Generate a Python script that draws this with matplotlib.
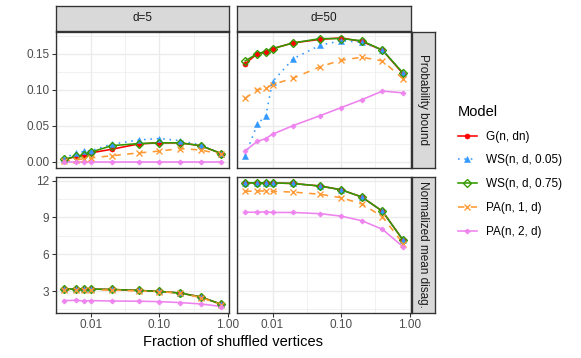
import matplotlib
matplotlib.use("Agg")
import matplotlib.pyplot as plt
import numpy as np
from matplotlib.lines import Line2D
from matplotlib.ticker import FixedLocator, NullFormatter

plt.rcParams['font.family'] = ['Liberation Sans', 'DejaVu Sans']

# ---------------- data ----------------
fraction = [0.004, 0.006, 0.008, 0.01, 0.02, 0.05, 0.1, 0.2, 0.4, 0.8]
models = ["G(n, dn)", "WS(n, d, 0.05)", "WS(n, d, 0.75)", "PA(n, 1, d)", "PA(n, 2, d)"]
degrees = ["d=5", "d=50"]
metrics = ["Probability bound", "Normalized mean disag."]

prob_d5_G    = [0.002, 0.007, 0.009, 0.012, 0.017, 0.0245, 0.026, 0.026, 0.022, 0.011]
prob_d5_WS05 = [0.004, 0.012, 0.014, 0.015, 0.024, 0.030, 0.032, 0.029, 0.023, 0.011]
prob_d5_WS75 = [0.003, 0.007, 0.009, 0.013, 0.022, 0.025, 0.026, 0.026, 0.022, 0.011]
prob_d5_PA1  = [0.0005, 0.002, 0.004, 0.005, 0.008, 0.012, 0.0145, 0.018, 0.016, 0.010]
prob_d5_PA2  = [0.0, 0.0, 0.0, 0.0, 0.0, 0.0, 0.0, 0.0, 0.0, 0.0]

prob_d50_G    = [0.136, 0.150, 0.152, 0.157, 0.165, 0.170, 0.172, 0.167, 0.155, 0.122]
prob_d50_WS05 = [0.008, 0.052, 0.064, 0.111, 0.143, 0.162, 0.168, 0.166, 0.155, 0.123]
prob_d50_WS75 = [0.140, 0.150, 0.153, 0.157, 0.165, 0.171, 0.171, 0.168, 0.155, 0.123]
prob_d50_PA1  = [0.088, 0.100, 0.102, 0.107, 0.116, 0.132, 0.141, 0.145, 0.140, 0.115]
prob_d50_PA2  = [0.015, 0.028, 0.032, 0.038, 0.050, 0.064, 0.075, 0.086, 0.098, 0.0955]

disag_d5_G    = [3.16, 3.16, 3.16, 3.16, 3.13, 3.05, 2.97, 2.84, 2.52, 1.92]
disag_d5_WS05 = [3.16, 3.16, 3.16, 3.16, 3.13, 3.05, 2.97, 2.84, 2.52, 1.92]
disag_d5_WS75 = [3.16, 3.16, 3.16, 3.16, 3.13, 3.05, 2.97, 2.84, 2.52, 1.92]
disag_d5_PA1  = [3.10, 3.10, 3.10, 3.10, 3.08, 3.00, 2.95, 2.82, 2.47, 1.88]
disag_d5_PA2  = [2.22, 2.25, 2.19, 2.22, 2.19, 2.17, 2.14, 2.06, 1.95, 1.74]

disag_d50_G    = [11.81, 11.81, 11.81, 11.81, 11.76, 11.55, 11.25, 10.66, 9.50, 7.14]
disag_d50_WS05 = [11.81, 11.81, 11.81, 11.81, 11.76, 11.55, 11.25, 10.66, 9.50, 7.14]
disag_d50_WS75 = [11.81, 11.81, 11.81, 11.81, 11.76, 11.55, 11.25, 10.66, 9.50, 7.14]
disag_d50_PA1  = [11.12, 11.15, 11.15, 11.12, 11.06, 10.88, 10.60, 10.10, 9.05, 6.87]
disag_d50_PA2  = [9.42, 9.42, 9.45, 9.40, 9.40, 9.30, 9.10, 8.73, 8.03, 6.60]

panel_data = {
    (0, 0): [prob_d5_G, prob_d5_WS05, prob_d5_WS75, prob_d5_PA1, prob_d5_PA2],
    (0, 1): [prob_d50_G, prob_d50_WS05, prob_d50_WS75, prob_d50_PA1, prob_d50_PA2],
    (1, 0): [disag_d5_G, disag_d5_WS05, disag_d5_WS75, disag_d5_PA1, disag_d5_PA2],
    (1, 1): [disag_d50_G, disag_d50_WS05, disag_d50_WS75, disag_d50_PA1, disag_d50_PA2],
}

y_ticks = [[0.0, 0.05, 0.10, 0.15], [3, 6, 9, 12]]
y_ticklabels = [["0.00", "0.05", "0.10", "0.15"], ["3", "6", "9", "12"]]
x_ticks = [0.01, 0.1, 1.0]
x_ticklabels = ["0.01", "0.10", "1.00"]

# ---------------- styles ----------------
colors = ["#FF0000", "#3399FF", "#339900", "#FF9933", "#EE82EE"]
linestyles = ["-", (0, (1, 3)), "-", (0, (4, 4)), "-"]
markers = ["o", "^", "D", "x", "P"]
msizes = [3.8, 4.5, 4.3, 4.0, 3.6]
mfaces = ["#FF0000", "#3399FF", "none", "#FF9933", "#EE82EE"]
mews = [0.4, 0.4, 1.0, 1.0, 0.4]
lw = 1.2

W, H = 581, 358
fig = plt.figure(figsize=(W / 96, H / 96), dpi=96)

cols_x = [(55.7, 229.3), (237.3, 411.0)]
rows_y = [(31.7, 167.7), (176.7, 312.7)]
strip_top = (5.7, 31.0)
strip_right = (411.7, 435.0)

def fx(px):
    return px / W

def fy(py):
    return 1 - py / H

grey20 = "#333333"
grey30 = "#4D4D4D"

xl = np.log10(fraction)
xr = xl.max() - xl.min()
xlim = (10 ** (xl.min() - 0.05 * xr), 10 ** (xl.max() + 0.05 * xr))

ylims = []
for r in range(2):
    allv = np.concatenate([np.array(panel_data[(r, c)]).ravel() for c in range(2)])
    rng = allv.max() - allv.min()
    ylims.append((allv.min() - 0.05 * rng, allv.max() + 0.05 * rng))

for r in range(2):
    for c in range(2):
        x0, x1 = cols_x[c]
        y0, y1 = rows_y[r]
        ax = fig.add_axes([fx(x0), fy(y1), fx(x1) - fx(x0), fy(y0) - fy(y1)])
        ax.set_xscale("log")
        ax.set_xlim(*xlim)
        ax.set_ylim(*ylims[r])
        ax.set_facecolor("white")
        ax.xaxis.set_major_locator(FixedLocator(x_ticks))
        ax.xaxis.set_minor_locator(FixedLocator([10 ** -2.5, 10 ** -1.5, 10 ** -0.5]))
        ax.xaxis.set_minor_formatter(NullFormatter())
        yt = y_ticks[r]
        step = yt[1] - yt[0]
        ax.yaxis.set_major_locator(FixedLocator(yt))
        ax.yaxis.set_minor_locator(FixedLocator([yt[0] - step / 2] + [v + step / 2 for v in yt]))
        ax.grid(True, which="major", color="#EBEBEB", linewidth=1.0, zorder=0)
        ax.grid(True, which="minor", color="#EBEBEB", linewidth=0.5, zorder=0)
        ax.set_axisbelow(True)
        ax.tick_params(which="minor", length=0)
        ax.tick_params(which="major", length=2.75, width=0.8, color=grey20,
                       labelsize=8.8, labelcolor=grey30, pad=2)
        if c == 0:
            ax.set_yticklabels(y_ticklabels[r])
        else:
            ax.tick_params(axis="y", which="major", length=0, labelleft=False)
        if r == 1:
            ax.set_xticklabels(x_ticklabels)
        else:
            ax.tick_params(axis="x", which="major", length=0, labelbottom=False)
        for sp in ax.spines.values():
            sp.set_color(grey20)
            sp.set_linewidth(1.0)
            sp.set_zorder(5)
        series = panel_data[(r, c)]
        for i, vals in enumerate(series):
            ax.plot(fraction, vals, color=colors[i], linestyle=linestyles[i],
                    linewidth=lw, zorder=2)
        for i, vals in enumerate(series):
            ax.plot(fraction, vals, linestyle="none", marker=markers[i],
                    markersize=msizes[i], markerfacecolor=mfaces[i],
                    markeredgecolor=colors[i], markeredgewidth=mews[i],
                    zorder=3 + i * 0.01)

for c in range(2):
    x0, x1 = cols_x[c]
    sa = fig.add_axes([fx(x0), fy(strip_top[1]), fx(x1) - fx(x0), fy(strip_top[0]) - fy(strip_top[1])])
    sa.set_xticks([]); sa.set_yticks([])
    sa.set_facecolor("#D9D9D9")
    for sp in sa.spines.values():
        sp.set_color(grey20); sp.set_linewidth(1.0)
    sa.text(0.5, 0.5, degrees[c], ha="center", va="center", fontsize=8.8,
            color="#1A1A1A", transform=sa.transAxes)

for r in range(2):
    y0, y1 = rows_y[r]
    sa = fig.add_axes([fx(strip_right[0]), fy(y1), fx(strip_right[1]) - fx(strip_right[0]), fy(y0) - fy(y1)])
    sa.set_xticks([]); sa.set_yticks([])
    sa.set_facecolor("#D9D9D9")
    for sp in sa.spines.values():
        sp.set_color(grey20); sp.set_linewidth(1.0)
    sa.text(0.5, 0.5, metrics[r], ha="center", va="center", fontsize=8.8,
            color="#1A1A1A", rotation=-90, transform=sa.transAxes)

fig.text(fx((cols_x[0][0] + cols_x[1][1]) / 2), fy(341.5), "Fraction of shuffled vertices",
         ha="center", va="center", fontsize=11, color="black")

handles = []
for i in range(len(models)):
    handles.append(Line2D([0], [0], color=colors[i], linestyle=linestyles[i], linewidth=lw,
                          marker=markers[i], markersize=msizes[i],
                          markerfacecolor=mfaces[i], markeredgecolor=colors[i],
                          markeredgewidth=mews[i]))
leg = fig.legend(handles, models, loc="upper left",
                 bbox_to_anchor=(fx(458), fy(105)), frameon=False,
                 title="Model", title_fontsize=11, fontsize=8.8,
                 handlelength=1.6, handletextpad=0.8, labelspacing=1.0,
                 borderaxespad=0, borderpad=0)
leg._legend_box.align = "left"

fig.savefig("out.png", dpi=96)
